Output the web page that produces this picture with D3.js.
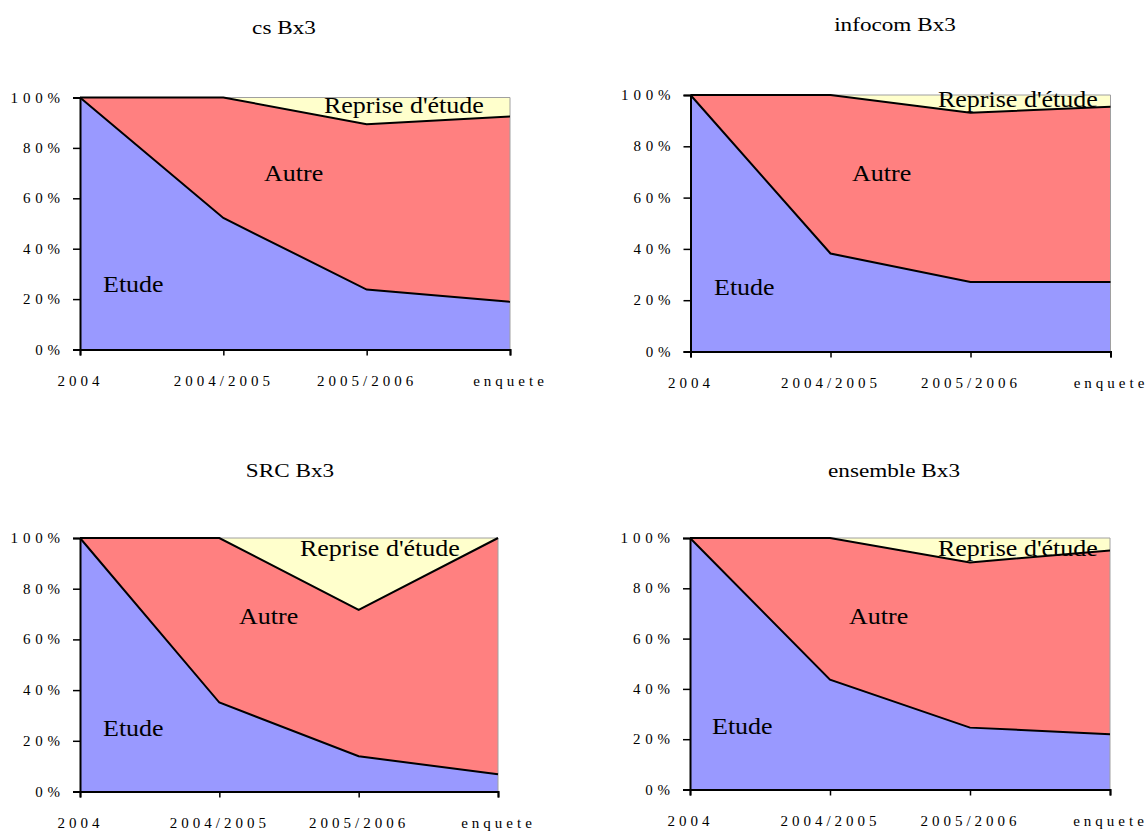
<!DOCTYPE html>
<html><head><meta charset="utf-8">
<script src="https://cdn.jsdelivr.net/npm/d3@7"></script>
<style>
body{margin:0;background:#fff;}
text{font-family:"Liberation Serif","Times New Roman",serif;fill:#000;}
</style></head>
<body><svg id="c" width="1147" height="833"></svg>
<script>
// ---- data ----
const categories = ["2004", "2004/2005", "2005/2006", "enquete"];
const yTickValues = [0, 20, 40, 60, 80, 100];
const seriesNames = ["Etude", "Autre", "Reprise d'étude"];
const seriesColors = ["#9999FF", "#FF8080", "#FFFFCC"];
const chartTitles = ["cs Bx3", "infocom Bx3", "SRC Bx3", "ensemble Bx3"];

const csEtude = [100, 52.2, 23.8, 18.9];
const csAutre = [0, 47.8, 65.6, 73.6];
const csReprise = [0, 0, 10.6, 7.5];

const infocomEtude = [100, 38.2, 27.1, 27.1];
const infocomAutre = [0, 61.8, 66.0, 68.3];
const infocomReprise = [0, 0, 6.9, 4.6];

const srcEtude = [100, 35.1, 13.9, 6.8];
const srcAutre = [0, 64.9, 57.7, 93.2];
const srcReprise = [0, 0, 28.4, 0];

const ensembleEtude = [100, 43.7, 24.6, 22.0];
const ensembleAutre = [0, 56.3, 65.7, 73.0];
const ensembleReprise = [0, 0, 9.7, 5.0];

const chartSeries = [
  [csEtude, csAutre, csReprise],
  [infocomEtude, infocomAutre, infocomReprise],
  [srcEtude, srcAutre, srcReprise],
  [ensembleEtude, ensembleAutre, ensembleReprise]
];

// ---- layout ----
const panels = [
  {x0: 80, x1: 510, y0: 97.5, y1: 349.5, tx: 284, ty: 34,
   labels: [[103, 292], [264, 181], [324, 113]]},
  {x0: 690.5, x1: 1110.5, y0: 95, y1: 351.5, tx: 895, ty: 31,
   labels: [[714, 295], [852, 181], [938, 107]]},
  {x0: 80, x1: 498, y0: 538, y1: 791.5, tx: 290, ty: 477,
   labels: [[103, 736], [239, 624], [300, 556]]},
  {x0: 690, x1: 1110, y0: 538, y1: 789.5, tx: 894, ty: 477,
   labels: [[712, 734], [849, 624], [938, 556]]}
];

const svg = d3.select("#c");

function stretch(sel, factor) {
  sel.each(function () {
    const len = this.getComputedTextLength();
    d3.select(this).attr("textLength", len * factor).attr("lengthAdjust", "spacingAndGlyphs");
  });
}

panels.forEach((p, i) => {
  const g = svg.append("g");
  const x = d3.scalePoint().domain(categories).range([p.x0, p.x1]);
  const y = d3.scaleLinear().domain([0, 100]).range([p.y1, p.y0]);

  const rows = categories.map((c, k) => {
    const r = {cat: c};
    seriesNames.forEach((s, j) => r[s] = chartSeries[i][j][k]);
    return r;
  });
  const stacked = d3.stack().keys(seriesNames)(rows);

  const area = d3.area().x(d => x(d.data.cat)).y0(d => y(d[0])).y1(d => y(d[1]));
  const line = d3.line().x(d => x(d.data.cat)).y(d => y(d[1]));

  g.selectAll("path.area").data(stacked).enter().append("path")
    .attr("class", "area")
    .attr("d", area)
    .attr("fill", (d, j) => seriesColors[j]);

  // plot-area border (top/right)
  g.append("path")
    .attr("d", `M${p.x0},${p.y0}H${p.x1}V${p.y1}`)
    .attr("fill", "none").attr("stroke", "#a0a0a0").attr("stroke-width", 1);

  // series top lines (Etude, Autre)
  g.selectAll("path.ln").data(stacked.slice(0, 2)).enter().append("path")
    .attr("class", "ln")
    .attr("d", line)
    .attr("fill", "none").attr("stroke", "#000").attr("stroke-width", 2)
    .attr("stroke-linejoin", "miter");

  // axes
  const yAxis = d3.axisLeft(y).tickValues(yTickValues).tickSize(7).tickPadding(13)
    .tickFormat(d => d + "%");
  const ya = g.append("g").attr("transform", `translate(${p.x0},0)`).call(yAxis)
    .attr("font-family", null).attr("font-size", null);
  ya.select(".domain").attr("stroke", "#000").attr("stroke-width", 2);
  ya.selectAll(".tick line").attr("stroke", "#000").attr("stroke-width", 1.5);
  ya.selectAll(".tick text")
    .style("font-family", "'Liberation Serif', serif")
    .style("font-size", "15px").style("letter-spacing", "4.8px")
    .attr("dx", 4.8).attr("dy", "0.3em").attr("fill", "#000");

  const xAxis = d3.axisBottom(x).tickSize(6).tickPadding(20);
  const xa = g.append("g").attr("transform", `translate(0,${p.y1})`).call(xAxis)
    .attr("font-family", null).attr("font-size", null);
  xa.select(".domain").attr("stroke", "#000").attr("stroke-width", 2);
  xa.selectAll(".tick line").attr("stroke", "#000").attr("stroke-width", 1.5);
  xa.selectAll(".tick text")
    .style("font-family", "'Liberation Serif', serif")
    .style("font-size", "15px").style("letter-spacing", "4px")
    .attr("dx", 0).attr("fill", "#000");

  // series labels
  const lbl = g.selectAll("text.lbl").data(seriesNames).enter().append("text")
    .attr("class", "lbl")
    .attr("x", (d, j) => p.labels[j][0])
    .attr("y", (d, j) => p.labels[j][1])
    .style("font-size", "23px")
    .text(d => d);
  stretch(lbl, 1.13);

  // title
  const t = svg.append("text")
    .attr("x", p.tx).attr("y", p.ty)
    .attr("text-anchor", "middle")
    .style("font-size", "19px")
    .text(chartTitles[i]);
  stretch(t, 1.22);
});
</script></body></html>
